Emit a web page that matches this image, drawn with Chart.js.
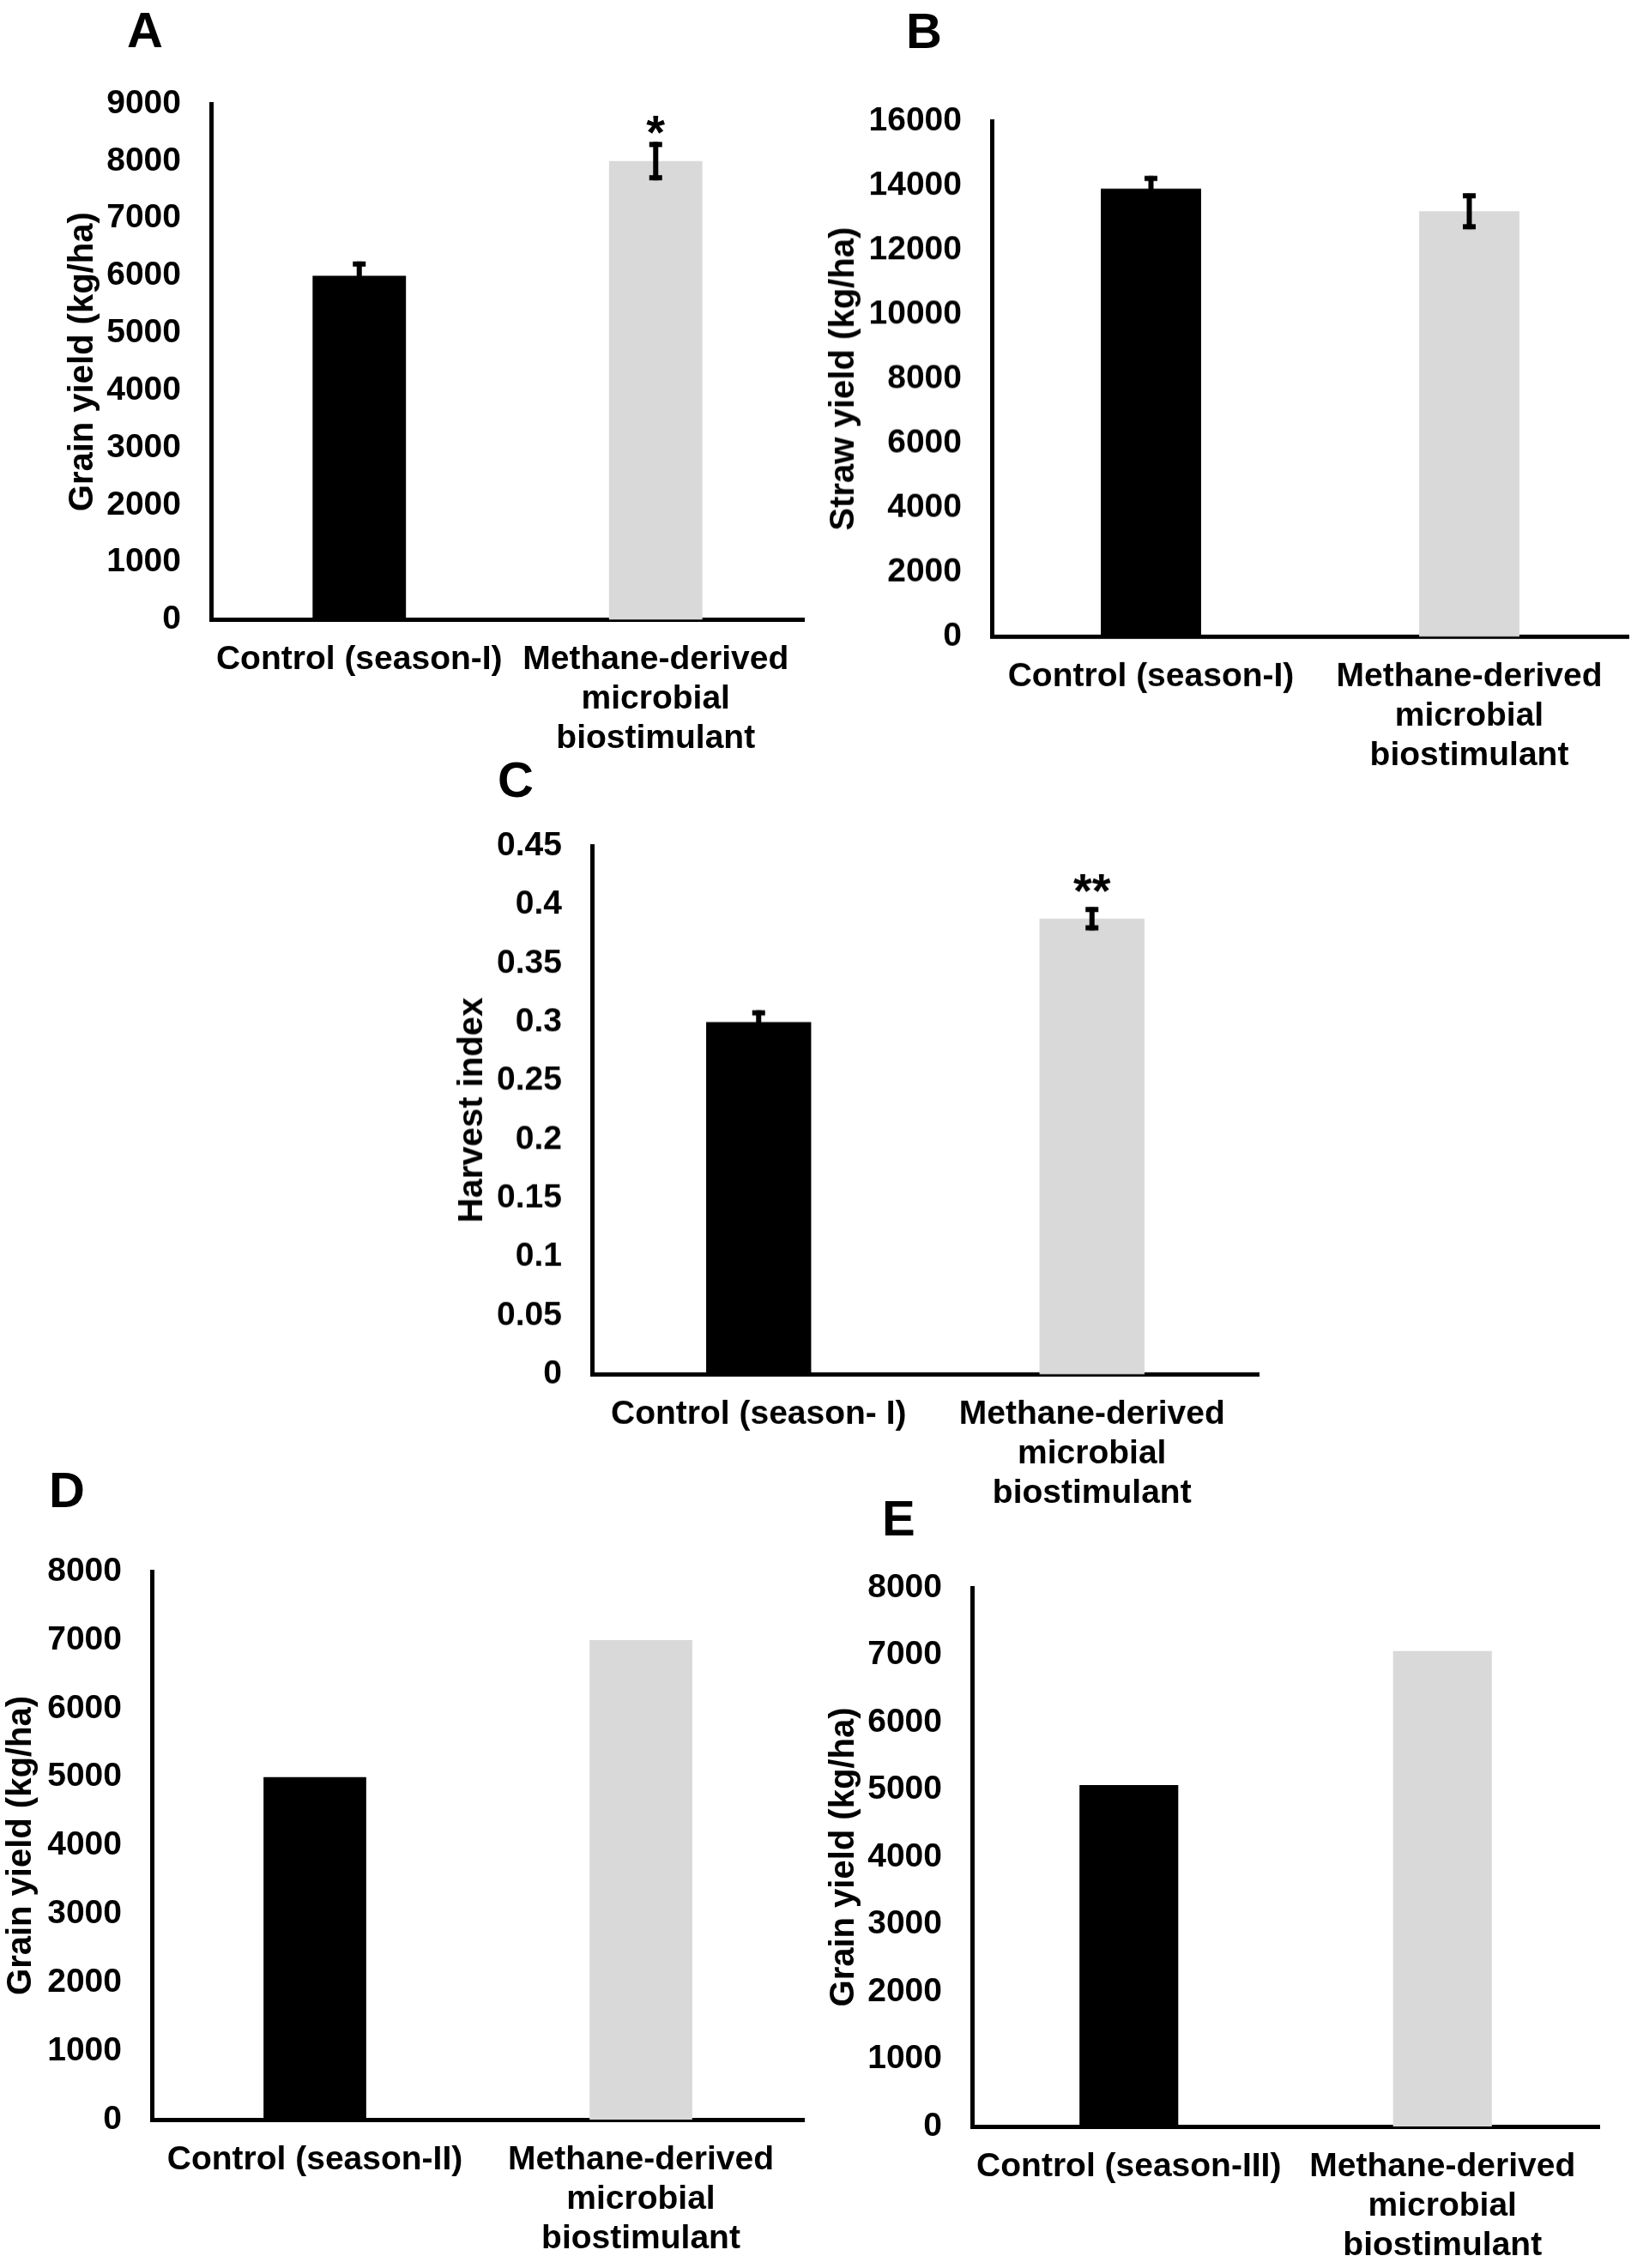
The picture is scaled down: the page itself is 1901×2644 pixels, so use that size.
<!DOCTYPE html>
<html lang="en">
  <head>
    <meta charset="UTF-8" />
    <title>Grain, straw yield and harvest index</title>
    <script src="https://cdn.jsdelivr.net/npm/chart.js"></script>
    <style>
      html,
      body {
        margin: 0;
        padding: 0;
        background: #fff;
        width: 1901px;
        height: 2644px;
        overflow: hidden;
        position: relative;
      }
      .panel {
        position: absolute;
      }
      .letter {
        position: absolute;
        font: bold 58px "Liberation Sans", Arial, sans-serif;
        line-height: 58px;
        color: #000;
      }
    </style>
  </head>
  <body>
    <script>
      // ---- data ----
      var treated = ["Methane-derived", "microbial", "biostimulant"];

      // A: grain yield, season I
      var categoriesA = ["Control (season-I)", treated];
      var grainA = [6000, 8000];
      var grainErrA = [250, 335];
      var starsA = ["", "*"];
      var ticksA = ["0", "1000", "2000", "3000", "4000", "5000", "6000", "7000", "8000", "9000"];

      // B: straw yield, season I
      var categoriesB = ["Control (season-I)", treated];
      var strawB = [13900, 13200];
      var strawErrB = [400, 560];
      var ticksB = ["0", "2000", "4000", "6000", "8000", "10000", "12000", "14000", "16000"];

      // C: harvest index, season I
      var categoriesC = ["Control (season- I)", treated];
      var harvestC = [0.3, 0.388];
      var harvestErrC = [0.01, 0.01];
      var starsC = ["", "**"];
      var ticksC = ["0", "0.05", "0.1", "0.15", "0.2", "0.25", "0.3", "0.35", "0.4", "0.45"];

      // D: grain yield, season II
      var categoriesD = ["Control (season-II)", treated];
      var grainD = [5000, 7000];
      var ticksD = ["0", "1000", "2000", "3000", "4000", "5000", "6000", "7000", "8000"];

      // E: grain yield, season III
      var categoriesE = ["Control (season-III)", treated];
      var grainE = [5070, 7060];
      var ticksE = ["0", "1000", "2000", "3000", "4000", "5000", "6000", "7000", "8000"];

      var barColors = ["#000000", "#d9d9d9"];
      var FONT = '"Liberation Sans", Arial, sans-serif';

      // error bars + significance stars, placed with the y scale
      var errorBars = {
        id: "errorBars",
        afterDatasetsDraw: function (chart, args, opts) {
          if (!opts.errors) return;
          var ctx = chart.ctx;
          var y = chart.scales.y;
          var values = chart.data.datasets[0].data;
          var meta = chart.getDatasetMeta(0);
          ctx.save();
          ctx.fillStyle = "#000";
          meta.data.forEach(function (bar, i) {
            var hi = y.getPixelForValue(values[i] + opts.errors[i]);
            var lo = y.getPixelForValue(values[i] - opts.errors[i]);
            ctx.fillRect(bar.x - 3, hi, 6, lo - hi);
            ctx.fillRect(bar.x - 7.5, hi, 15, 6);
            ctx.fillRect(bar.x - 7.5, lo - 6, 15, 6);
            if (opts.stars && opts.stars[i]) {
              ctx.font = "bold 56px " + FONT;
              ctx.textAlign = "center";
              ctx.textBaseline = "alphabetic";
              ctx.fillText(opts.stars[i], bar.x, hi - opts.starGap + 0.56 * 56);
            }
          });
          ctx.restore();
        },
      };

      // where each panel sits on the page (plot area edges, title centre, letter)
      var panels = [
        { letter: "A", lx: 148, ly: 5.5, left: 246, top: 120.5, right: 937, bottom: 722, titleX: 97,
          labels: categoriesA, values: grainA, errors: grainErrA, stars: starsA, starGap: 24,
          max: 9000, step: 1000, ticks: ticksA, title: "Grain yield (kg/ha)" },
        { letter: "B", lx: 1056, ly: 6.7, left: 1156, top: 141, right: 1898, bottom: 741.5, titleX: 984,
          labels: categoriesB, values: strawB, errors: strawErrB, stars: null, starGap: 0,
          max: 16000, step: 2000, ticks: ticksB, title: "Straw yield (kg/ha)" },
        { letter: "C", lx: 580, ly: 880, left: 690, top: 986, right: 1467, bottom: 1601.5, titleX: 551,
          labels: categoriesC, values: harvestC, errors: harvestErrC, stars: starsC, starGap: 31,
          max: 0.45, step: 0.05, ticks: ticksC, title: "Harvest index" },
        { letter: "D", lx: 57, ly: 1708, left: 177, top: 1832, right: 937, bottom: 2471, titleX: 25,
          labels: categoriesD, values: grainD, errors: null, stars: null, starGap: 0,
          max: 8000, step: 1000, ticks: ticksD, title: "Grain yield (kg/ha)" },
        { letter: "E", lx: 1028, ly: 1741, left: 1133, top: 1851, right: 1864, bottom: 2479, titleX: 984,
          labels: categoriesE, values: grainE, errors: null, stars: null, starGap: 0,
          max: 8000, step: 1000, ticks: ticksE, title: "Grain yield (kg/ha)" },
      ];

      var PAD_TOP = 60;
      var PAD_RIGHT = 12;
      var X_AXIS_H = 180;

      panels.forEach(function (p) {
        var letter = document.createElement("div");
        letter.className = "letter";
        letter.style.left = p.lx + "px";
        letter.style.top = p.ly + "px";
        letter.textContent = p.letter;
        document.body.appendChild(letter);

        var L = p.titleX - 24;
        var T = p.top - PAD_TOP;
        var yW = p.left - L;
        var box = document.createElement("div");
        box.className = "panel";
        box.style.left = L + "px";
        box.style.top = T + "px";
        box.style.width = p.right - L + PAD_RIGHT + "px";
        box.style.height = p.bottom - T + X_AXIS_H + "px";
        var canvas = document.createElement("canvas");
        box.appendChild(canvas);
        document.body.appendChild(box);

        new Chart(canvas.getContext("2d"), {
          type: "bar",
          data: {
            labels: p.labels,
            datasets: [
              {
                data: p.values,
                backgroundColor: barColors,
                borderWidth: 0,
                barPercentage: 0.315,
                categoryPercentage: 1.0,
              },
            ],
          },
          options: {
            responsive: true,
            maintainAspectRatio: false,
            animation: false,
            layout: { padding: { top: PAD_TOP, right: PAD_RIGHT, left: 0, bottom: 0 } },
            plugins: {
              legend: { display: false },
              tooltip: { enabled: false },
              errorBars: { errors: p.errors, stars: p.stars, starGap: p.starGap },
            },
            scales: {
              x: {
                z: 1,
                grid: { display: false, drawTicks: false },
                border: { display: true, color: "#000", width: 5 },
                ticks: {
                  color: "#000",
                  font: { family: FONT, size: 39, weight: "bold", lineHeight: 1.18 },
                  padding: 24,
                  maxRotation: 0,
                  minRotation: 0,
                  autoSkip: false,
                },
                afterFit: function (s) {
                  s.height = X_AXIS_H;
                },
              },
              y: {
                z: 1,
                min: 0,
                max: p.max,
                grid: { display: false, drawTicks: false },
                border: { display: true, color: "#000", width: 5 },
                ticks: {
                  stepSize: p.step,
                  color: "#000",
                  font: { family: FONT, size: 39, weight: "bold" },
                  padding: 35,
                  callback: function (v, i) {
                    return p.ticks[i];
                  },
                },
                title: {
                  display: true,
                  text: p.title,
                  color: "#000",
                  font: { family: FONT, size: 40, weight: "bold", lineHeight: 1.2 },
                  padding: 0,
                },
                afterFit: function (s) {
                  s.width = yW;
                },
              },
            },
          },
          plugins: [errorBars],
        });
      });
    </script>
  </body>
</html>
